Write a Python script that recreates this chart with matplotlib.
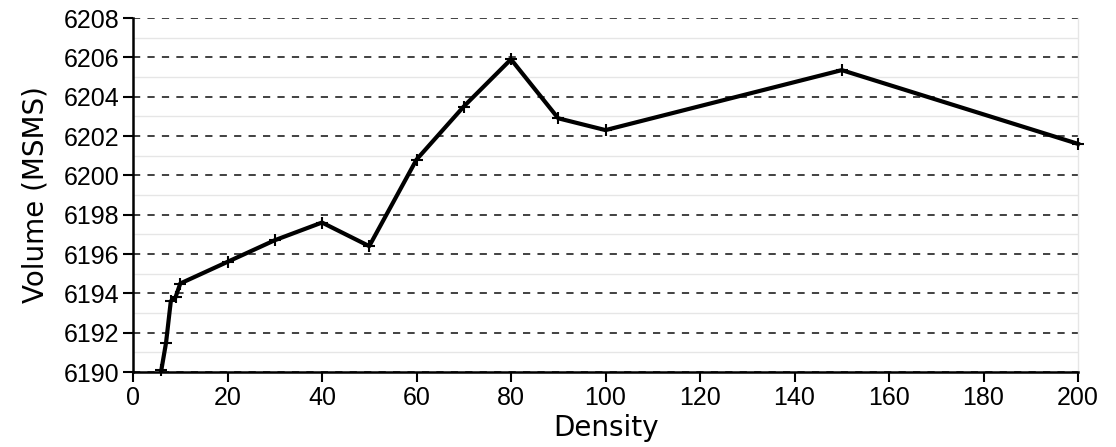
import matplotlib
matplotlib.use("Agg")
import matplotlib.pyplot as plt
from matplotlib.ticker import MultipleLocator

density = [6, 7, 8, 9, 10, 20, 30, 40, 50, 60, 70, 80, 90, 100, 150, 200]
volume = [6190.1, 6191.5, 6193.6, 6193.8, 6194.5, 6195.6, 6196.7, 6197.6,
          6196.4, 6200.8, 6203.5, 6205.9, 6202.9, 6202.3, 6205.35, 6201.6]
xticks = list(range(0, 201, 20))
yticks = list(range(6190, 6209, 2))

fig = plt.figure(figsize=(11.16, 4.47), dpi=100)
ax = fig.add_axes([133/1116, (447-372)/447, (1078-133)/1116, (372-18)/447])

ax.plot(density, volume, color="black", lw=3, marker="+", ms=8, mew=1.5,
        zorder=3, clip_on=False)

ax.set_xlim(0, 200)
ax.set_ylim(6190, 6208)
ax.set_xticks(xticks)
ax.set_yticks(yticks)
ax.yaxis.set_minor_locator(MultipleLocator(1))
ax.grid(axis="y", which="major", color="#333333", ls=(0, (4, 4)), lw=1.3)
ax.grid(axis="y", which="minor", color="#e6e6e6", ls="-", lw=1)
ax.tick_params(axis="y", which="minor", length=0)
ax.tick_params(axis="both", which="major", direction="out", length=7, width=1.5,
               labelsize=18, colors="black", pad=3)
for lab in ax.get_xticklabels() + ax.get_yticklabels():
    lab.set_fontfamily("Liberation Sans")
ax.spines["top"].set_visible(False)
ax.spines["right"].set_color("#e6e6e6")
ax.spines["right"].set_linewidth(1)
ax.spines["left"].set_linewidth(1.8)
ax.spines["bottom"].set_linewidth(1.8)
ax.set_axisbelow(True)

ax.set_xlabel("Density", fontsize=20, labelpad=3)
ax.set_ylabel("Volume (MSMS)", fontsize=20, labelpad=10)

fig.savefig("out.png", dpi=100)
